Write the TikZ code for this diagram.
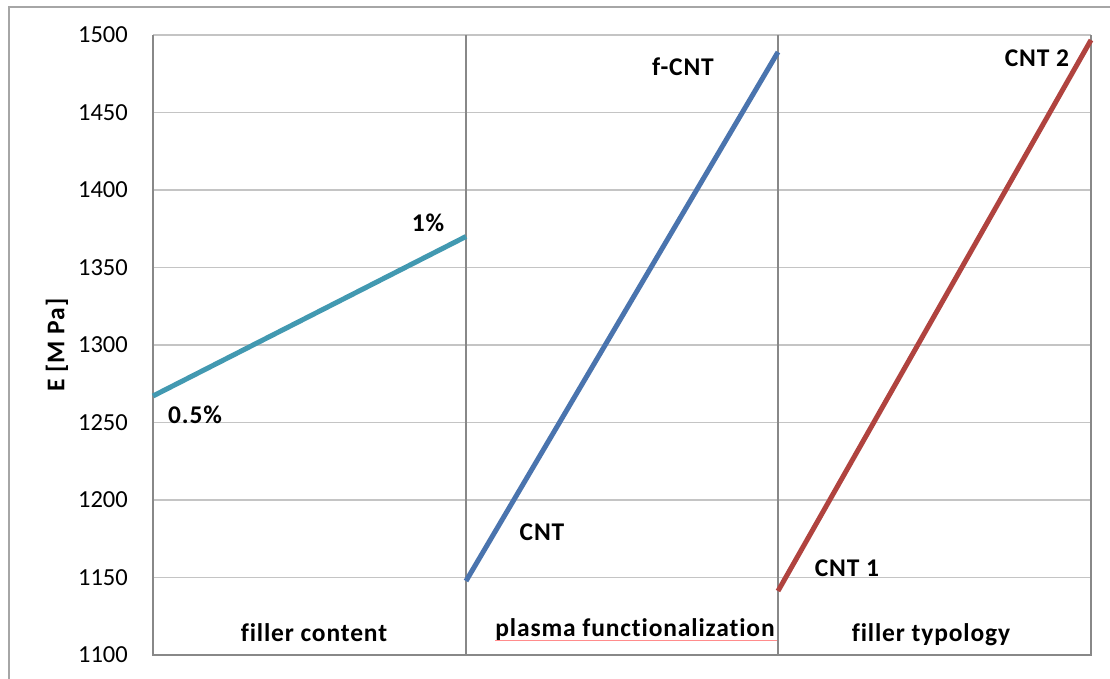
\documentclass[tikz,border=0pt]{standalone}
\usepackage{fontspec}
\setmainfont{Carlito}[Ligatures=NoCommon]
\newfontfamily\lblfont{Carlito}[Ligatures=NoCommon,LetterSpace=3.4,BoldFont={Carlito Bold}]
\definecolor{tealc}{HTML}{4299B1}
\definecolor{bluec}{HTML}{4A74AE}
\definecolor{redc}{HTML}{B0433F}
\definecolor{gridc}{HTML}{C4C4C4}
\definecolor{axisc}{HTML}{888888}
\definecolor{framec}{HTML}{A6A6A6}
\begin{document}
\begin{tikzpicture}[x=1pt,y=-1pt,
  tick/.style={anchor=east,inner sep=0pt,font=\fontsize{24.5}{28}\selectfont},
  lbl/.style={inner sep=0pt,font=\lblfont\fontsize{25.5}{29}\selectfont\bfseries},
  series/.style={line width=5pt,line cap=butt}]
\useasboundingbox (0,0) rectangle (1110,679);
\fill[white] (0,0) rectangle (1110,679);
% outer frame
\draw[framec,line width=1.5pt] (9,690) -- (9,7) -- (1120,7);
% gridlines
\foreach \v/\y in {1500/35,1450/112.5,1400/190,1350/267.5,1300/345,1250/422.5,1200/500,1150/577.5}{
  \draw[gridc,line width=1.5pt] (153,\y) -- (1091,\y);
  \node[tick] (t\v) at (128,\y) {\v};
}
\node[tick] (t1100) at (128,655) {1100};
% axes and dividers
\draw[axisc,line width=1.5pt] (153,35) -- (153,655) -- (1091,655) -- (1091,35);
\draw[axisc,line width=1.2pt] (466,35) -- (466,655);
\draw[axisc,line width=1.2pt] (778,35) -- (778,655);
% y label
\node[lbl,rotate=90] (ylab) at (57,345) {E [M Pa]};
% series
\coordinate (a1) at (153,396);
\coordinate (a2) at (466,236.5);
\coordinate (b1) at (466,581);
\coordinate (b2) at (778,52);
\coordinate (c1) at (778,591);
\coordinate (c2) at (1091,40);
\draw[series,tealc] (a1) -- (a2);
\draw[series,bluec] (b1) -- (b2);
\draw[series,redc] (c1) -- (c2);
% point labels
\node[lbl] (l1) at (428,223) {1\%};
\node[lbl] (l05) at (195,415) {0.5\%};
\node[lbl] (lf) at (683,67) {f-CNT};
\node[lbl] (lc) at (542,532) {CNT};
\node[lbl] (lc1) at (847,568) {CNT 1};
\node[lbl] (lc2) at (1037,58) {CNT 2};
% category labels
\node[lbl] (cat1) at (314,633) {filler content};
\node[lbl] (cat2) at (635,630) {plasma functionalization};
\node[lbl] (cat3) at (931,635) {filler typology};
\draw[red!45,line width=1pt] (495,640) -- (777,640);
\end{tikzpicture}
\end{document}
